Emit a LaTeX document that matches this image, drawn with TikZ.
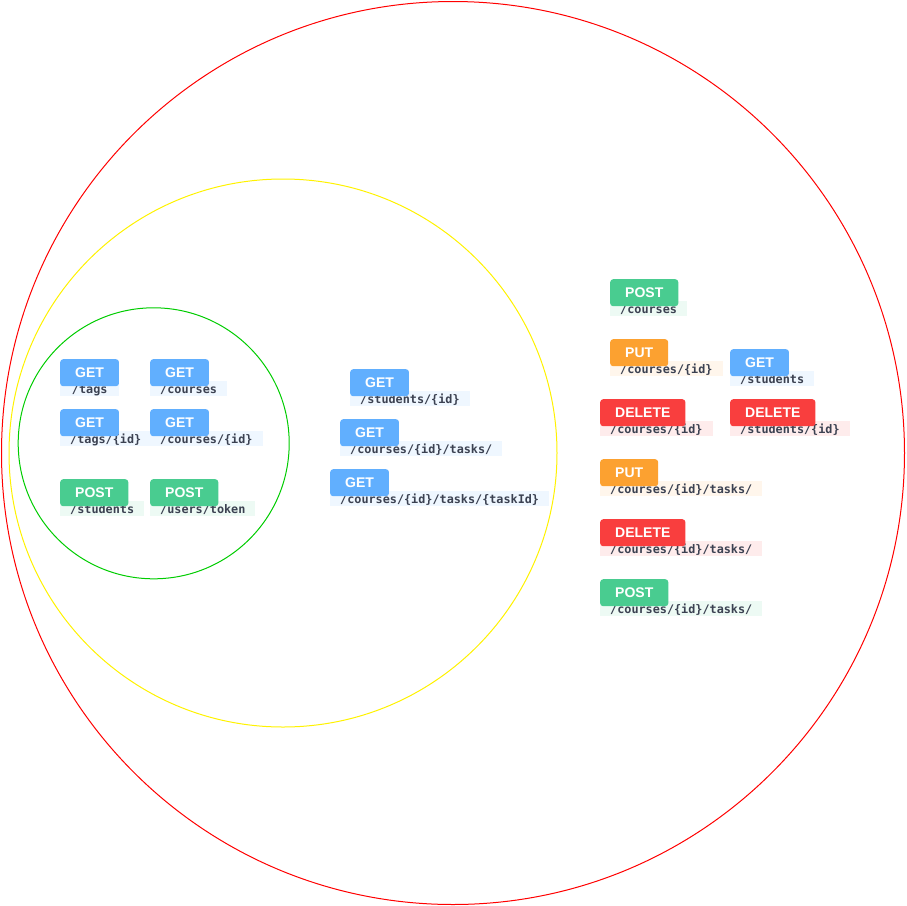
\documentclass[tikz,border=0pt]{standalone}
\usepackage{fontspec}
\setmainfont{Liberation Sans}
\newfontfamily\badgefont{Liberation Sans}
\newfontfamily\pathfont{DejaVu Sans Mono}
\definecolor{getc}{HTML}{61AFFE}
\definecolor{postc}{HTML}{49CC90}
\definecolor{putc}{HTML}{FCA130}
\definecolor{delc}{HTML}{F93E3E}
\definecolor{getl}{HTML}{EFF7FF}
\definecolor{postl}{HTML}{EDFAF4}
\definecolor{putl}{HTML}{FFF6EC}
\definecolor{dell}{HTML}{FEECEC}
\definecolor{pathtext}{HTML}{3B4151}
\definecolor{ringgreen}{HTML}{00CC00}
\tikzset{
  ring/.style={line width=1pt},
  badge/.style={anchor=north west, minimum height=27pt, inner xsep=15pt, inner ysep=0pt,
    rounded corners=3pt, text=white, text height=10pt, text depth=0pt,
    font=\badgefont\bfseries\fontsize{14}{14}\selectfont},
  pathbox/.style={anchor=north west, minimum height=15pt, minimum width=59pt, inner xsep=10pt, inner ysep=0pt,
    text=pathtext, text height=10.5pt, text depth=1pt, font=\pathfont\bfseries\fontsize{11.8}{12}\selectfont},
}
% #1 name, #2 x, #3 y, #4 method, #5 path, #6 colour prefix
\newcommand\apiep[6]{%
  \node[pathbox, fill=#6l] (#1p) at (#2,#3+22) {#5};
  \node[badge, fill=#6c] (#1m) at (#2,#3) {#4};
}
\begin{document}
\begin{tikzpicture}[x=1pt,y=-1pt]
\useasboundingbox (0,0) rectangle (906,906);
\node[ring, draw=red, circle, minimum size=903pt, inner sep=0pt] (outer) at (453,453) {};
\node[ring, draw=yellow, circle, minimum size=548pt, inner sep=0pt] (middle) at (283,453) {};
\node[ring, draw=ringgreen, circle, minimum size=271pt, inner sep=0pt] (inner) at (153.7,443.3) {};
\apiep{a}{60}{359}{GET}{/tags}{get}
\apiep{b}{150}{359}{GET}{/courses}{get}
\apiep{c}{60}{409}{GET}{/tags/\{id\}}{get}
\apiep{d}{150}{409}{GET}{/courses/\{id\}}{get}
\apiep{e}{60}{479}{POST}{/students}{post}
\apiep{f}{150}{479}{POST}{/users/token}{post}
\apiep{g}{350}{369}{GET}{/students/\{id\}}{get}
\apiep{h}{340}{419}{GET}{/courses/\{id\}/tasks/}{get}
\apiep{i}{330}{469}{GET}{/courses/\{id\}/tasks/\{taskId\}}{get}
\apiep{j}{610}{279}{POST}{/courses}{post}
\apiep{k}{610}{339}{PUT}{/courses/\{id\}}{put}
\apiep{l}{730}{349}{GET}{/students}{get}
\apiep{m}{600}{399}{DELETE}{/courses/\{id\}}{del}
\apiep{n}{730}{399}{DELETE}{/students/\{id\}}{del}
\apiep{o}{600}{459}{PUT}{/courses/\{id\}/tasks/}{put}
\apiep{q}{600}{519}{DELETE}{/courses/\{id\}/tasks/}{del}
\apiep{r}{600}{579}{POST}{/courses/\{id\}/tasks/}{post}
\end{tikzpicture}
\end{document}
